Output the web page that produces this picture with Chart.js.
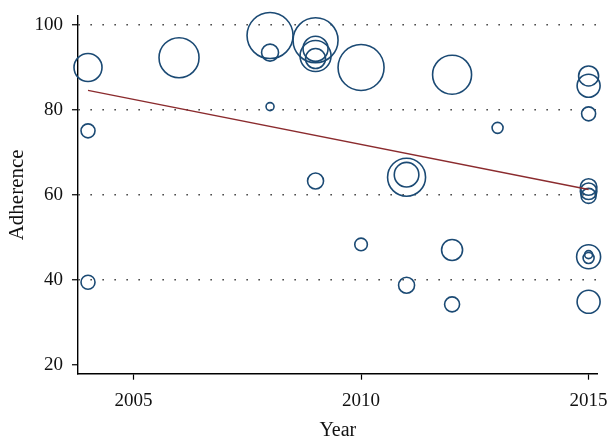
<!DOCTYPE html>
<html lang="en">
<head>
    <meta charset="UTF-8">
    <title>Adherence by Year</title>
    <style>
        body {
            margin: 0;
            background-color: #ffffff;
        }
        #chartBox {
            width: 612px;
            height: 438px;
        }
    </style>
    <script src="https://cdn.jsdelivr.net/npm/chart.js"></script>
</head>
<body>
    <div id="chartBox">
        <canvas id="bubbleChart" width="612" height="438"></canvas>
    </div>

    <script>
        // study data
        const years = [2004, 2004, 2004, 2006, 2008, 2008, 2008, 2009, 2009, 2009, 2009, 2009,
                       2010, 2010, 2011, 2011, 2011, 2012, 2012, 2012, 2013,
                       2015, 2015, 2015, 2015, 2015, 2015, 2015, 2015, 2015, 2015];
        const adherence = [90.0, 75.1, 39.5, 92.3, 97.5, 93.5, 80.8, 96.4, 94.4, 92.7, 92.1, 63.3,
                           90.0, 48.4, 64.2, 64.8, 38.8, 88.3, 47.1, 34.3, 75.8,
                           88.0, 85.7, 79.1, 61.9, 60.9, 59.8, 45.5, 46.0, 45.2, 34.9];
        const weights = [14, 7, 7, 20, 23, 8.5, 4, 22.5, 12.5, 15.5, 10, 8,
                         23, 6.3, 19, 12.3, 8, 19.5, 10.5, 7.5, 5.5,
                         10, 11.5, 7, 8.3, 8.3, 7.5, 12, 4, 5.5, 11.5];

        // fitted meta-regression line
        const fitYears = [2004, 2015];
        const fitValues = [84.6, 61.3];

        const xTicks = [2005, 2010, 2015];
        const yTicks = [20, 40, 60, 80, 100];
        const gridValues = [40, 60, 80, 100];

        const fontFamily = "'Liberation Serif', 'Times New Roman', serif";

        let bubbles = years.map((y, i) => ({ x: y, y: adherence[i], r: weights[i] }));
        let fitLine = fitYears.map((y, i) => ({ x: y, y: fitValues[i] }));

        let ctx = document.getElementById('bubbleChart').getContext('2d');
        new Chart(ctx, {
            type: 'bubble',
            data: {
                datasets: [{
                    type: 'line',
                    data: fitLine,
                    borderColor: '#8b2b2e',
                    borderWidth: 1.4,
                    pointRadius: 0,
                    fill: false
                }, {
                    data: bubbles,
                    borderColor: '#1b4a74',
                    backgroundColor: 'rgba(0,0,0,0)',
                    borderWidth: 1.6,
                    clip: false
                }]
            },
            options: {
                responsive: false,
                animation: false,
                layout: {
                    // big bubbles may spill outside the axes, as in the original
                    autoPadding: false,
                    padding: { left: 0, right: 14.3, top: 16, bottom: 0 }
                },
                plugins: {
                    legend: { display: false },
                    tooltip: { enabled: false }
                },
                scales: {
                    x: {
                        type: 'linear',
                        min: 2003.78,
                        max: 2015.2,
                        afterBuildTicks: (scale) => {
                            scale.ticks = xTicks.map(v => ({ value: v }));
                        },
                        afterFit: (scale) => {
                            scale.height = 64.3;
                            scale.paddingLeft = 0;
                            scale.paddingRight = 0;
                        },
                        grid: {
                            drawOnChartArea: false,
                            tickLength: 6,
                            tickColor: '#000',
                            tickWidth: 1.2
                        },
                        border: { display: true, color: '#000', width: 1.4 },
                        ticks: {
                            color: '#111',
                            padding: 10,
                            maxRotation: 0,
                            font: { family: fontFamily, size: 19 },
                            callback: (v) => String(v)
                        },
                        title: {
                            display: true,
                            text: 'Year',
                            color: '#111',
                            padding: { top: 0, bottom: -5 },
                            font: { family: fontFamily, size: 20 }
                        }
                    },
                    y: {
                        min: 18,
                        max: 102.1,
                        afterBuildTicks: (scale) => {
                            scale.ticks = yTicks.map(v => ({ value: v }));
                        },
                        afterFit: (scale) => {
                            scale.width = 78;
                            scale.paddingTop = 0;
                            scale.paddingBottom = 0;
                        },
                        grid: {
                            color: (c) => gridValues.includes(c.tick && c.tick.value) ? '#3a3a3a' : 'rgba(0,0,0,0)',
                            lineWidth: 1.5,
                            tickLength: 6,
                            tickColor: '#000',
                            tickWidth: 1.2,
                            tickBorderDash: []
                        },
                        border: { display: true, color: '#000', width: 1.4, dash: [1.5, 10.5] },
                        ticks: {
                            color: '#111',
                            padding: 9,
                            font: { family: fontFamily, size: 19 },
                            callback: (v) => String(v)
                        },
                        title: {
                            display: true,
                            text: 'Adherence',
                            color: '#111',
                            padding: { top: 5, bottom: 0 },
                            font: { family: fontFamily, size: 21 }
                        }
                    }
                }
            }
        });
    </script>
</body>
</html>
